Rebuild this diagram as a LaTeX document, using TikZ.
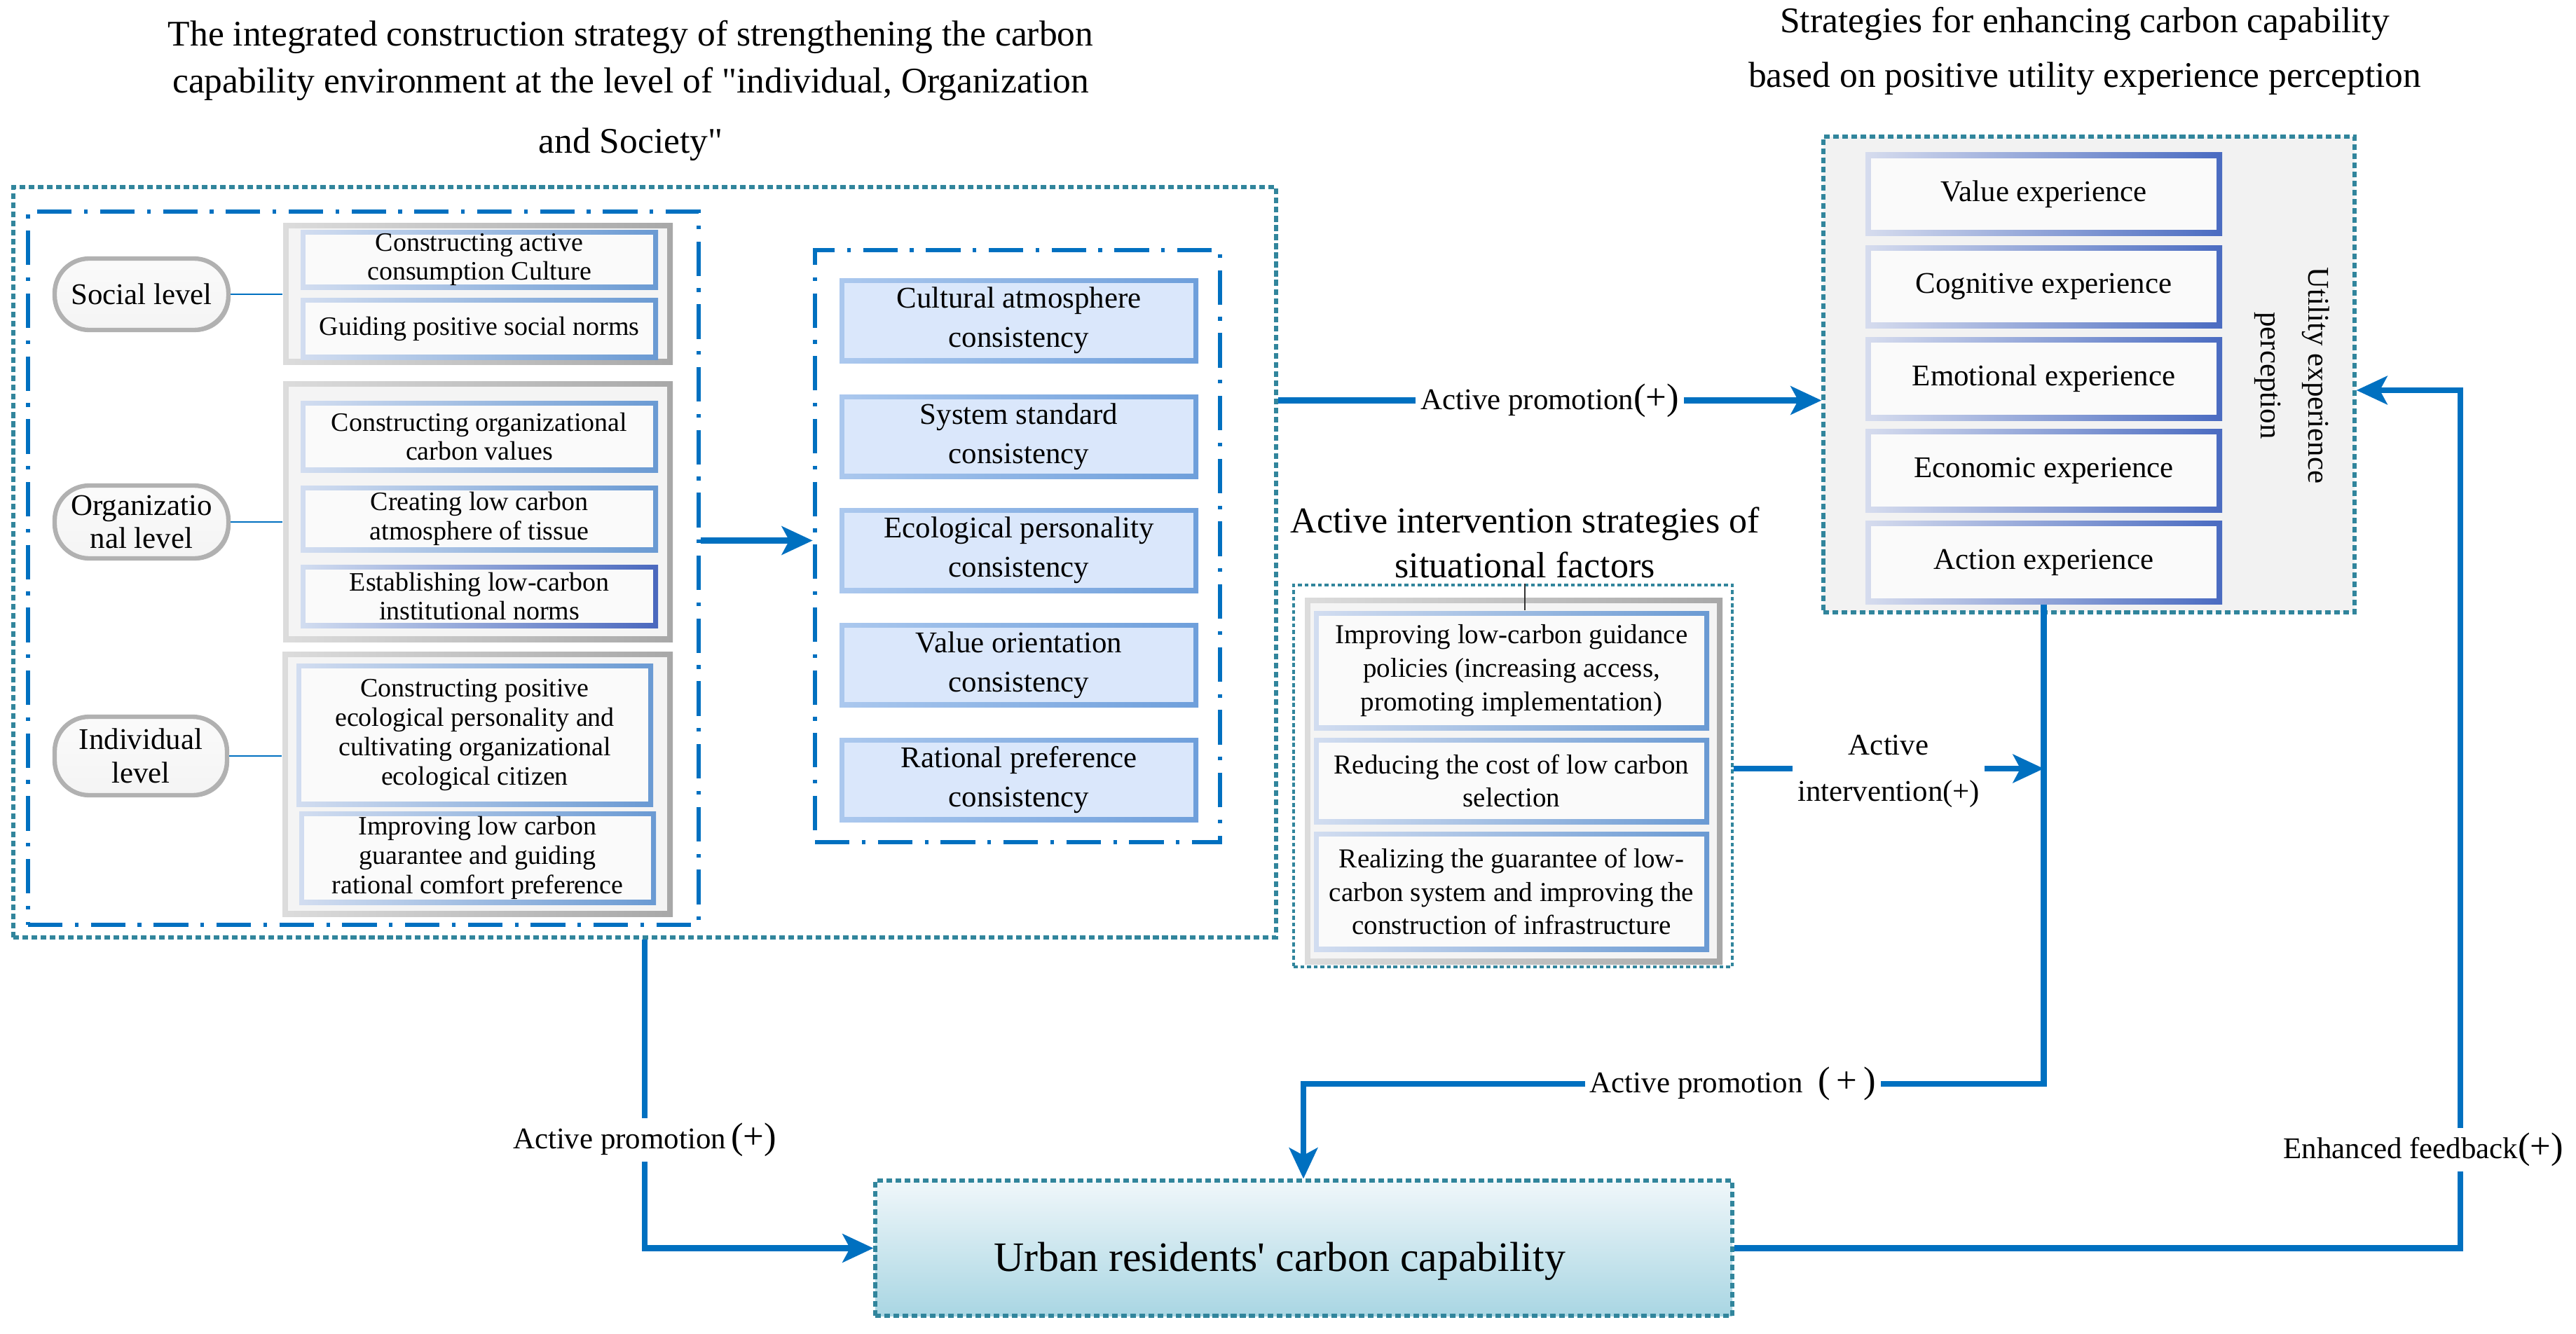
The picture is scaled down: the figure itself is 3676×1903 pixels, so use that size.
\documentclass[tikz,border=0pt]{standalone}
\usepackage{fontspec}
\setmainfont{Liberation Serif}[Ligatures=TeXOff]
\usetikzlibrary{arrows.meta,calc,shadows}
\definecolor{teal1}{HTML}{31859C}
\definecolor{blue1}{HTML}{0070C0}
\definecolor{gA}{HTML}{DCDCDC}
\definecolor{gB}{HTML}{A8A8A8}
\definecolor{gF}{HTML}{F4F4F4}
\definecolor{uF}{HTML}{F2F2F2}
\definecolor{lbL}{HTML}{D2DDF0}
\definecolor{lbR}{HTML}{6A9AD3}
\definecolor{lbR2}{HTML}{4A68BE}
\definecolor{cbL}{HTML}{ABC8EE}
\definecolor{cbR}{HTML}{6E9FDB}
\definecolor{cbF}{HTML}{DAE7FB}
\definecolor{ubL}{HTML}{D6DCEE}
\definecolor{ubR}{HTML}{4A6BC1}
\definecolor{bxF}{HTML}{FAFAFA}
\definecolor{urbTop}{HTML}{F0F7FA}
\definecolor{urbBot}{HTML}{A9D6E3}
\newcommand\fsTitle{\fontsize{14.65pt}{19pt}\selectfont}
\newcommand\fsLab{\fontsize{12.2pt}{15.9pt}\selectfont}
\newcommand\fsPill{\fontsize{12.2pt}{13.6pt}\selectfont}
\newcommand\fsLeft{\fontsize{10.8pt}{11.9pt}\selectfont}
\newcommand\fsSit{\fontsize{11.1pt}{13.6pt}\selectfont}
\newcommand\fsSitT{\fontsize{14.8pt}{18.2pt}\selectfont}
\newcommand\fsUrb{\fontsize{17pt}{20pt}\selectfont}
\newcommand\bigpar[1]{{\fontsize{15pt}{15pt}\selectfont #1}}
% box from (x1,y1) to (x2,y2) in pixel units
\newcommand\bx[6]{\node[#1,minimum width={(#4-#2)*0.01cm},minimum height={(#5-#3)*0.01cm}] (#6) at ({(#2+#4)/2},{(#3+#5)/2})}
\begin{document}
\begin{tikzpicture}[x=0.01cm,y=-0.01cm,
  teald/.style={draw=teal1, line width=1.5pt, dash pattern=on 2.3pt off 1.4pt},
  tealfine/.style={draw=teal1, line width=1pt, dash pattern=on 1.6pt off 1.1pt},
  dashdot/.style={draw=blue1, line width=1.9pt, dash pattern=on 14pt off 5pt on 1.5pt off 5pt},
  fitbox/.style={inner sep=0pt, align=center},
  bshade/.style n args={4}{path picture={
      \shade[left color=#1,right color=#2] (path picture bounding box.south west) rectangle (path picture bounding box.north east);
      \fill[#3] ([shift={(#4,#4)}]path picture bounding box.south west) rectangle ([shift={(-#4,-#4)}]path picture bounding box.north east);}},
  grp/.style={fitbox, bshade={gA}{gB}{gF}{2.3pt}},
  lbox/.style={fitbox, bshade={lbL}{lbR}{bxF}{2pt}, font=\fsLeft},
  lboxd/.style={fitbox, bshade={lbL}{lbR2}{bxF}{2pt}, font=\fsLeft},
  cbox/.style={fitbox, bshade={cbL}{cbR}{cbF}{2pt}, font=\fsLab},
  ubox/.style={fitbox, bshade={ubL}{ubR}{bxF}{2.3pt}, font=\fsLab},
  sbox/.style={fitbox, bshade={lbL}{lbR}{bxF}{2pt}, font=\fsSit},
  pill/.style={draw=gB!90, line width=1.8pt, top color=gF!40, bottom color=gF, rounded corners=14pt, fitbox, font=\fsPill,
     drop shadow={shadow xshift=0.8pt, shadow yshift=-0.8pt, fill=black, opacity=0.28}},
  ttl/.style={font=\fsTitle, inner sep=0pt, text height=9.9pt, text depth=3.2pt},
  lbl/.style={font=\fsLab, fill=white, inner sep=2pt, align=center},
  arr/.style={draw=blue1, line width=2.3pt, -{Stealth[length=12.5pt,width=11.5pt,inset=3pt]}},
  conn/.style={draw=blue1, line width=0.7pt}
]
\useasboundingbox (0,0) rectangle (3676,1903);

% titles
\node[ttl] (t1a) at (900,54) {The integrated construction strategy of strengthening the carbon};
\node[ttl] (t1b) at (900,121) {capability environment at the level of "individual, Organization};
\node[ttl] (t1c) at (900,207) {and Society"};
\node[ttl] (t2a) at (2975,35) {Strategies for enhancing carbon capability};
\node[ttl] (t2b) at (2975,113) {based on positive utility experience perception};

% left big boxes
\bx{teald, fitbox}{19}{267}{1821}{1338}{outer} {};
\bx{dashdot, fitbox}{40}{302}{997}{1320}{inner} {};

% pills
\bx{pill}{78}{369}{326}{471}{spill} {Social level};
\bx{pill}{78}{693}{326}{797}{opill} {Organizatio\\nal level};
\bx{pill}{78}{1023}{324}{1135}{ipill} {Individual\\level};

% groups
\bx{grp}{404}{318}{960}{520}{sgrp} {};
\bx{grp}{404}{544}{960}{916}{ogrp} {};
\bx{grp}{403}{930}{960}{1308}{igrp} {};

\bx{lbox}{429}{328}{939}{413}{s1} {Constructing active\\consumption Culture};
\bx{lbox}{429}{425}{939}{513}{s2} {Guiding positive social norms};
\bx{lbox}{429}{572}{939}{674}{o1} {Constructing organizational\\carbon values};
\bx{lbox}{429}{693}{939}{788}{o2} {Creating low carbon\\atmosphere of tissue};
\bx{lboxd}{429}{806}{939}{896}{o3} {Establishing low-carbon\\institutional norms};
\bx{lbox}{423}{947}{932}{1151}{i1} {Constructing positive\\ecological personality and\\cultivating organizational\\ecological citizen};
\bx{lbox}{427}{1158}{936}{1291}{i2} {Improving low carbon\\guarantee and guiding\\rational comfort preference};

\draw[conn] (spill.east) -- (sgrp.west |- spill.east);
\draw[conn] (opill.east) -- (ogrp.west |- opill.east);
\draw[conn] (ipill.east) -- (igrp.west |- ipill.east);

% consistency
\bx{dashdot, fitbox}{1163}{357}{1741}{1202}{cons} {};
\bx{cbox}{1198}{397}{1710}{518}{c1} {Cultural atmosphere\\consistency};
\bx{cbox}{1198}{563}{1710}{683}{c2} {System standard\\consistency};
\bx{cbox}{1198}{725}{1710}{846}{c3} {Ecological personality\\consistency};
\bx{cbox}{1198}{889}{1710}{1009}{c4} {Value orientation\\consistency};
\bx{cbox}{1198}{1053}{1710}{1173}{c5} {Rational preference\\consistency};

\coordinate (ca) at ($(cons.west)+(0,-8)$);
\draw[arr] (inner.east |- ca) -- (ca);

% utility
\bx{teald, fill=uF, fitbox}{2602}{195}{3360}{874}{util} {};
\bx{ubox}{2662}{218}{3171}{336}{u1} {Value experience};
\bx{ubox}{2662}{350}{3171}{468}{u2} {Cognitive experience};
\bx{ubox}{2662}{481}{3171}{600}{u3} {Emotional experience};
\bx{ubox}{2662}{612}{3171}{731}{u4} {Economic experience};
\bx{ubox}{2662}{743}{3171}{862}{u5} {Action experience};
\node[rotate=-90, font=\fontsize{12.2pt}{19.3pt}\selectfont, align=center] (utxt) at (3271,536) {Utility experience\\perception};

% situational
\node[font=\fsSitT, align=center, inner sep=0pt] (sitt) at (2176,774) {Active intervention strategies of\\situational factors};
\bx{tealfine, fitbox}{1846}{835}{2472}{1380}{sit} {};
\bx{grp}{1862}{853}{2458}{1376}{sitg} {};
\bx{sbox}{1875}{872}{2439}{1042}{sb1} {Improving low-carbon guidance\\policies (increasing access,\\promoting implementation)};
\bx{sbox}{1875}{1053}{2439}{1176}{sb2} {Reducing the cost of low carbon\\selection};
\bx{sbox}{1875}{1187}{2439}{1358}{sb3} {Realizing the guarantee of low-\\carbon system and improving the\\construction of infrastructure};
\draw[black!80, line width=0.8pt] (sit.north -| sitt.south) -- (sb1.north -| sitt.south);

% bottom
\bx{teald, top color=urbTop, bottom color=urbBot, fitbox}{1249}{1685}{2472}{1878}{urb} {};
\node[font=\fsUrb, inner sep=0pt] (urbt) at (1826,1800) {Urban residents' carbon capability};

% connectors
\coordinate (pa) at ($(util.west)+(0,37)$);
\draw[arr] (outer.east |- pa) -- node[lbl]{Active promotion\bigpar{(+)}} (pa);

\coordinate (pi) at (0,1097);
\draw[arr] (sit.east |- pi) -- node[lbl, font=\fontsize{12.2pt}{18.7pt}\selectfont, yshift=-1pt]{Active\\intervention(+)} (u5.south |- pi);

\coordinate (pc) at (1860,1547);
\draw[arr] (u5.south) |- node[lbl, pos=0.71]{Active promotion\enspace\bigpar{(\,+\,)}} (pc) -- (pc |- urb.north);

\coordinate (lp) at (920,0);
\draw[arr] (outer.south -| lp) -- node[lbl, pos=0.65]{Active promotion\,\bigpar{(+)}} (lp |- urb.west) -- (urb.west);

\coordinate (fbc) at (3511,557);
\draw[arr] (urb.east) -- (urb.east -| fbc) -- node[lbl, pos=0.115, xshift=-15pt]{Enhanced feedback\bigpar{(+)}} (fbc) -- (fbc -| util.east);
\end{tikzpicture}
\end{document}
